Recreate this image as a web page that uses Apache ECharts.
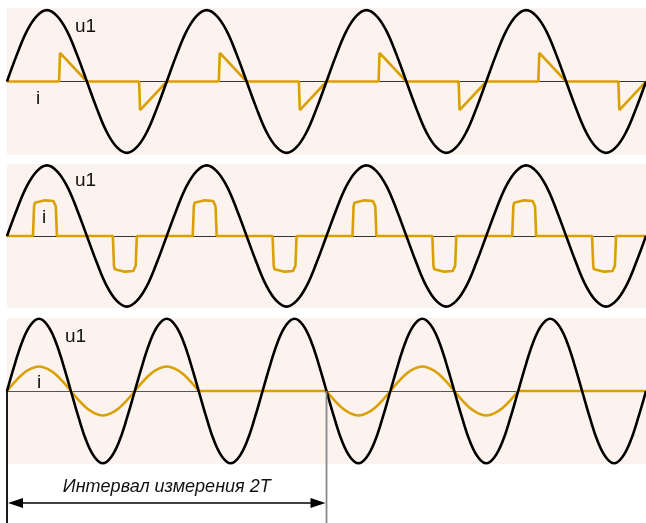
<!DOCTYPE html>
<html>
<head>
<meta charset="utf-8">
<script src="https://cdn.jsdelivr.net/npm/echarts@6/dist/echarts.min.js"></script>
<style>
  html, body { margin: 0; padding: 0; background: #fff; }
  #main { width: 646px; height: 523px; }
</style>
</head>
<body>
<div id="main"></div>
<script>
// x is time in periods of u1, y is relative to the u1 amplitude
const samplesPerPeriod = 16;

// one period of u1 and of the panel 3 current, read at 1/16 period steps
const u1Period = [0, 0.38, 0.71, 0.92, 1, 0.92, 0.71, 0.38, 0, -0.38, -0.71, -0.92, -1, -0.92, -0.71, -0.38];
const i3Period = [0, 0.13, 0.24, 0.31, 0.34, 0.31, 0.24, 0.13, 0, -0.13, -0.24, -0.31, -0.34, -0.31, -0.24, -0.13];

// panel 3: current on (1) or off (0) in each half period
const i3HalfOn = [1, 1, 1, 0, 0, 1, 1, 1, 0, 0];

// panel 1: current jumps up, then falls linearly to the zero crossing of u1
const triShape = [[0, 0], [0.006, 0.40], [0.174, 0]];
const triStarts = [0.326, 0.827, 1.326, 1.827, 2.326, 2.827, 3.326, 3.827];
const triSigns = [1, -1, 1, -1, 1, -1, 1, -1];

// panel 2: short flat-topped current pulses
const rectShape = [[0, 0], [0.007, 0.42], [0.012, 0.47], [0.022, 0.495], [0.075, 0.505],
  [0.128, 0.495], [0.138, 0.47], [0.143, 0.42], [0.15, 0]];
const rectStarts = [0.1625, 0.6625, 1.1625, 1.6625, 2.1625, 2.6625, 3.1625, 3.6625];
const rectSigns = [1, -1, 1, -1, 1, -1, 1, -1];

const interval = [0, 2.5];

const bg = '#FCF3EE';
const orange = '#D9A000';

function wave(period, periods) {
  const out = [];
  for (let k = 0; k <= periods * samplesPerPeriod; k++) {
    out.push([k / samplesPerPeriod, period[k % samplesPerPeriod]]);
  }
  return out;
}

function pulses(shape, starts, signs, end) {
  const out = [[0, 0]];
  starts.forEach((s, k) => {
    shape.forEach(p => out.push([s + p[0], p[1] * signs[k]]));
  });
  out.push([end, 0]);
  return out;
}

// split the panel 3 current into its sinusoidal parts and its flat parts
const half = samplesPerPeriod / 2;
const i3Wave = [];
const i3Flat = [];
for (let k = 0; k <= i3HalfOn.length * half; k++) {
  const x = k / samplesPerPeriod;
  const prevOn = i3HalfOn[Math.floor((k - 1) / half)] === 1;
  const nextOn = i3HalfOn[Math.floor(k / half)] === 1;
  const edge = k % half === 0;
  const on = edge ? (prevOn || nextOn) : nextOn;
  const flat = edge ? (!prevOn || !nextOn) : !nextOn;
  i3Wave.push([x, on ? i3Period[k % samplesPerPeriod] : '-']);
  i3Flat.push([x, flat ? 0 : '-']);
}

function grid(top, height) {
  return {left: 7, right: 0, top: top, height: height, show: true, backgroundColor: bg, borderWidth: 0};
}

function xAx(i, max, color) {
  return {
    gridIndex: i, type: 'value', min: 0, max: max,
    axisLine: {onZero: true, lineStyle: {color: color, width: 1}},
    axisTick: {show: false}, axisLabel: {show: false}, splitLine: {show: false}
  };
}

function yAx(i, lim) {
  return {gridIndex: i, type: 'value', min: -lim, max: lim, show: false, splitLine: {show: false}};
}

function line(i, data, color, smooth, z) {
  return {
    type: 'line', xAxisIndex: i, yAxisIndex: i, data: data,
    showSymbol: false, silent: true, animation: false, z: z,
    smooth: smooth ? 0.4 : false,
    lineStyle: {color: color, width: 2.6}
  };
}

function label(text, x, y) {
  return {
    type: 'text', x: x, y: y, silent: true,
    style: {text: text, fontSize: 19, fontFamily: '"Liberation Sans", Arial, sans-serif', fill: '#111', verticalAlign: 'middle'}
  };
}

const chart = echarts.init(document.getElementById('main'));
chart.setOption({
  animation: false,
  grid: [grid(8, 147), grid(164, 144), grid(318, 146)],
  xAxis: [xAx(0, 4, '#333'), xAx(1, 4, '#333'), xAx(2, 5, '#555')],
  yAxis: [yAx(0, 1.03), yAx(1, 1.02), yAx(2, 1.01)],
  series: [
    line(0, pulses(triShape, triStarts, triSigns, 4), orange, false, 2),
    line(0, wave(u1Period, 4), '#000', true, 3),
    line(1, pulses(rectShape, rectStarts, rectSigns, 4), orange, false, 2),
    line(1, wave(u1Period, 4), '#000', true, 3),
    line(2, i3Wave, orange, true, 2),
    line(2, i3Flat, orange, false, 2),
    line(2, wave(u1Period, 5), '#000', true, 3)
  ]
});

// measuring interval below the third panel
const a = chart.convertToPixel({gridIndex: 2}, [interval[0], 0]);
const b = chart.convertToPixel({gridIndex: 2}, [interval[1], 0]);
const arrowY = 503;
chart.setOption({
  graphic: [
    label('u1', 75, 27), label('i', 36, 99),
    label('u1', 75, 181), label('i', 42, 218),
    label('u1', 65, 337), label('i', 37, 383),
    {type: 'line', silent: true, z: 10, shape: {x1: a[0], y1: a[1], x2: a[0], y2: 523}, style: {stroke: '#000', lineWidth: 1.8}},
    {type: 'line', silent: true, z: 10, shape: {x1: b[0], y1: b[1], x2: b[0], y2: 523}, style: {stroke: '#888', lineWidth: 1.8}},
    {type: 'line', silent: true, z: 10, shape: {x1: a[0] + 10, y1: arrowY, x2: b[0] - 10, y2: arrowY}, style: {stroke: '#000', lineWidth: 1.4}},
    {type: 'polygon', silent: true, z: 10, shape: {points: [[a[0] + 1, arrowY], [a[0] + 16, arrowY - 5], [a[0] + 16, arrowY + 5]]}, style: {fill: '#000'}},
    {type: 'polygon', silent: true, z: 10, shape: {points: [[b[0] - 1, arrowY], [b[0] - 16, arrowY - 5], [b[0] - 16, arrowY + 5]]}, style: {fill: '#000'}},
    {
      type: 'text', silent: true, x: (a[0] + b[0]) / 2, y: 487,
      style: {text: 'Интервал измерения 2T', fontSize: 18, fontStyle: 'italic',
        fontFamily: '"Liberation Sans", Arial, sans-serif', fill: '#111', align: 'center', verticalAlign: 'middle'}
    }
  ]
});
</script>
</body>
</html>
